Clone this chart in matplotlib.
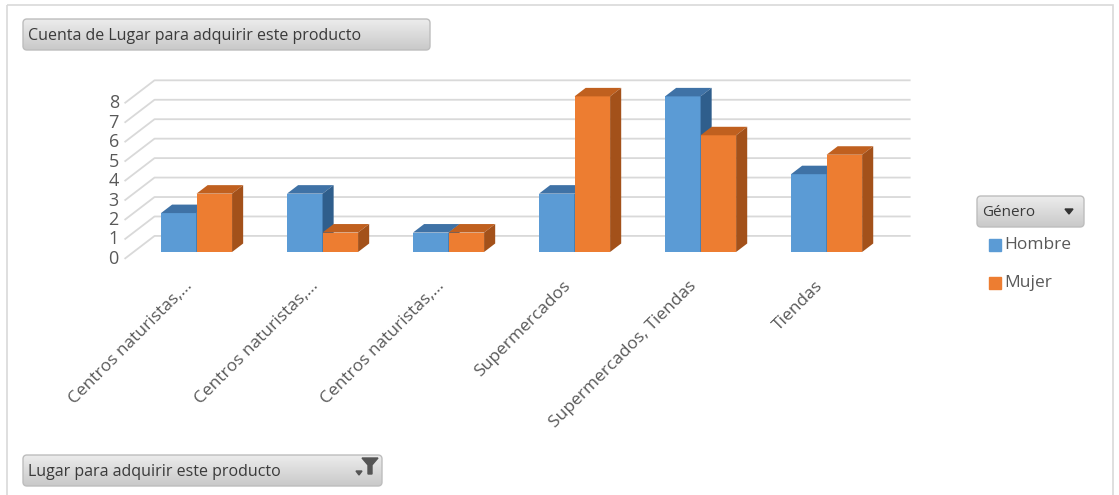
import matplotlib
matplotlib.use("Agg")
import matplotlib.pyplot as plt
import numpy as np
from matplotlib.colors import LinearSegmentedColormap
from matplotlib.patches import FancyBboxPatch, Polygon, Rectangle

# --- data ---
categories = [
    "Centros naturistas,...",
    "Centros naturistas,...",
    "Centros naturistas,...",
    "Supermercados",
    "Supermercados, Tiendas",
    "Tiendas",
]
hombre = [2, 3, 1, 3, 8, 4]
mujer = [3, 1, 1, 8, 6, 5]
series_names = ["Hombre", "Mujer"]
y_ticks = [0, 1, 2, 3, 4, 5, 6, 7, 8]

value_title = "Cuenta de Lugar para adquirir este producto"
axis_title = "Lugar para adquirir este producto"
legend_title = "Género"

# colours: front, top, side
BLUE = ("#5b9bd5", "#3f72a6", "#2f5e8c")
ORANGE = ("#ed7d31", "#c0601f", "#a3511a")
GRID = "#d9d9d9"
TEXT = "#595959"
FONT = "Open Sans"

# pseudo 3d depth direction (data units per unit of depth)
DX, DY = 0.238, 1.18
D_FRONT, D_BACK, D_BAR = -0.3, 0.7, 0.37
BAR_W = 0.282


def draw_button(ax, x0, y0, x1, y1, label, fs=11.5):
    box = FancyBboxPatch((x0, y0), x1 - x0, y1 - y0,
                         boxstyle="round,pad=0,rounding_size=4",
                         facecolor="none", edgecolor="#bdbdbd", lw=1, zorder=3)
    ax.add_patch(box)
    cmap = LinearSegmentedColormap.from_list("btn", ["#ececec", "#c9c9c9"])
    grad = np.linspace(0, 1, 64).reshape(-1, 1)
    im = ax.imshow(grad, cmap=cmap, extent=(x0, x1, y1, y0), aspect="auto",
                   zorder=2, interpolation="bilinear")
    im.set_clip_path(box)
    ax.text(x0 + 5, (y0 + y1) / 2 + 1, label, ha="left", va="center",
            fontsize=fs, color="#3a3a3a", family=FONT, zorder=4)


fig = plt.figure(figsize=(11.19, 4.95), dpi=100)

# ui chrome layer in pixel coordinates
ui = fig.add_axes([0, 0, 1, 1])
ui.set_xlim(0, 1119)
ui.set_ylim(495, 0)
ui.axis("off")
ui.add_patch(Rectangle((7, 5), 1106, 500, facecolor="none", edgecolor="#d9d9d9", lw=1.2))
draw_button(ui, 23, 19, 430, 50, value_title)
draw_button(ui, 23, 455, 382, 486, axis_title)
draw_button(ui, 977, 196, 1084, 227, legend_title, fs=11)
ui.set_xlim(0, 1119)
ui.set_ylim(495, 0)
# dropdown arrow on legend button
ui.add_patch(Polygon([(1065, 209), (1073, 209), (1069, 214)], color="#333333", zorder=5))
# filter icon on axis button
ui.add_patch(Polygon([(362, 458), (378, 458), (372, 465), (372, 474), (368, 474), (368, 465)],
                     color="#555555", zorder=5))
ui.add_patch(Polygon([(356, 471), (362, 471), (359, 475)], color="#555555", zorder=5))

# legend entries
for k, (name, col) in enumerate(zip(series_names, [BLUE[0], ORANGE[0]])):
    yc = 245 + 38 * k
    ui.add_patch(Rectangle((989, yc - 6), 12, 12, color=col))
    ui.text(1004, yc, name, ha="left", va="center", fontsize=12.5, color=TEXT, family=FONT)

# chart layer in data coordinates
ax = fig.add_axes([100 / 1119, 1 - 280 / 495, 840 / 1119, 220 / 495])
ax.set_xlim(-0.766, 5.9)
ax.set_ylim(-1.44, 9.87)
ax.axis("off")

n = len(categories)
x_left, x_right = -0.5, n - 0.5
for v in y_ticks:
    xs = [x_left + DX * D_FRONT, x_left + DX * D_BACK, x_right + DX * D_BACK]
    ys = [v + DY * D_FRONT, v + DY * D_BACK, v + DY * D_BACK]
    ax.plot(xs, ys, color=GRID, lw=1.3, zorder=1, solid_capstyle="butt")
    ax.text(xs[0] - 0.045, ys[0], str(v), ha="right", va="center",
            fontsize=13, color=TEXT, family=FONT)

x = np.arange(n)
ddx, ddy = DX * D_BAR, DY * D_BAR
for i in range(n):
    for vals, off, cols in [(hombre, -BAR_W, BLUE), (mujer, 0.0, ORANGE)]:
        h = vals[i]
        x0 = x[i] + off
        x1 = x0 + BAR_W
        z = 3 + i * 3 + (0 if off < 0 else 1.5)
        ax.bar(x0, h, width=BAR_W, align="edge", color=cols[0], zorder=z)
        ax.add_patch(Polygon([(x0, h), (x1, h), (x1 + ddx, h + ddy), (x0 + ddx, h + ddy)],
                             closed=True, color=cols[1], zorder=z, lw=0))
        ax.add_patch(Polygon([(x1, 0), (x1 + ddx, ddy), (x1 + ddx, h + ddy), (x1, h)],
                             closed=True, color=cols[2], zorder=z, lw=0))

for i, lab in enumerate(categories):
    ax.text(x[i] - 0.05, -1.62, lab, rotation=45, rotation_mode="anchor",
            ha="right", va="center", fontsize=12.5, color=TEXT, family=FONT,
            clip_on=False)

fig.savefig("out.png", dpi=100)
